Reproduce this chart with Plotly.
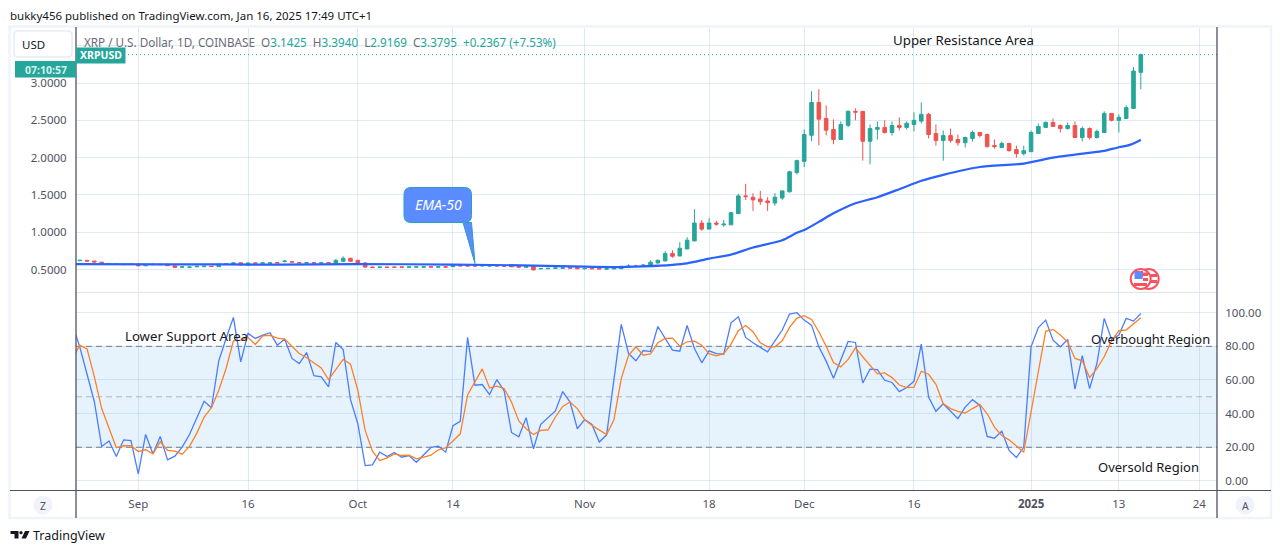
import pandas as pd
import plotly.graph_objects as go

W, H = 1281, 553
FONT = "Noto Sans"
UP, DOWN = "#26a69a", "#ef5350"

opens = [.620,.625,.615,.600,.570,.574,.568,.574,.572,.552,.572,.566,.572,.552,.532,.532,.538,.540,.546,.540,
.572,.577,.592,.560,.590,.585,.586,.594,.610,.606,.594,.588,.594,.588,.594,.585,.612,.652,.625,.590,
.535,.530,.534,.534,.535,.532,.534,.533,.538,.533,.538,.540,.557,.553,.553,.550,.548,.553,.552,.550,
.545,.533,.548,.511,.513,.518,.519,.525,.527,.512,.517,.514,.508,.510,.513,.540,.550,
.552,.554,.59,.616,.716,.683,.777,.885,1.124,1.043,1.124,1.10,1.10,1.25,1.488,1.47,1.447,1.42,1.393,1.46,1.542,1.80,
1.95,2.30,2.74,2.525,2.377,2.243,2.433,2.62,2.62,2.22,2.38,2.405,2.337,2.43,2.405,2.445,2.49,2.58,2.323,2.229,2.296,
2.243,2.20,2.256,2.337,2.31,2.162,2.135,2.19,2.108,2.054,
2.08,2.323,2.405,2.472,2.43,2.39,2.43,2.27,2.39,2.27,2.337,2.593,2.50,2.525,2.66,3.1425]
highs = [.632,.628,.618,.607,.583,.580,.574,.580,.574,.572,.578,.578,.575,.555,.545,.540,.550,.552,.550,.578,
.582,.595,.596,.594,.594,.593,.592,.598,.627,.615,.598,.597,.600,.597,.598,.642,.678,.660,.632,.600,
.542,.538,.538,.538,.541,.540,.540,.545,.542,.538,.542,.570,.563,.560,.562,.558,.556,.558,.566,.558,
.550,.545,.552,.520,.524,.530,.530,.533,.530,.522,.520,.518,.512,.522,.550,.572,.565,
.575,.625,.635,.747,.76,.868,.935,1.31,1.165,1.19,1.155,1.165,1.272,1.515,1.65,1.524,1.555,1.47,1.524,1.555,1.825,1.973,
2.377,2.89,2.916,2.70,2.512,2.485,2.633,2.66,2.62,2.445,2.485,2.50,2.485,2.54,2.485,2.606,2.74,2.60,2.445,2.364,2.39,
2.31,2.283,2.364,2.337,2.323,2.243,2.216,2.20,2.16,2.16,
2.364,2.458,2.485,2.525,2.445,2.472,2.485,2.418,2.405,2.377,2.62,2.593,2.58,2.70,3.213,3.394]
lows = [.618,.610,.598,.565,.567,.565,.565,.566,.549,.550,.562,.558,.552,.525,.530,.528,.535,.538,.540,.538,
.566,.574,.560,.558,.582,.580,.580,.585,.595,.590,.586,.585,.584,.586,.586,.583,.608,.606,.585,.525,
.524,.525,.530,.530,.530,.528,.528,.525,.530,.530,.530,.535,.548,.545,.545,.545,.540,.544,.545,.535,
.525,.525,.490,.508,.507,.511,.514,.519,.510,.505,.510,.508,.498,.505,.510,.535,.540,
.548,.548,.58,.616,.66,.68,.775,.88,1.02,1.043,1.088,1.074,1.098,1.245,1.434,1.286,1.366,1.286,1.357,1.434,1.533,1.775,
1.875,2.22,2.166,2.30,2.18,2.24,2.408,2.50,1.96,1.91,2.243,2.323,2.296,2.364,2.377,2.35,2.458,2.256,2.16,1.96,2.20,
2.16,2.135,2.216,2.27,2.135,2.12,2.135,2.08,2.0,2.027,
2.08,2.32,2.405,2.418,2.337,2.377,2.27,2.216,2.243,2.256,2.337,2.485,2.337,2.525,2.66,2.9169]
closes = [.625,.615,.603,.570,.574,.570,.571,.570,.551,.570,.568,.570,.553,.530,.536,.535,.545,.546,.542,.572,
.577,.590,.563,.590,.585,.590,.590,.590,.614,.602,.590,.592,.590,.592,.590,.625,.652,.612,.590,.535,
.528,.534,.531,.532,.533,.536,.537,.537,.535,.537,.534,.566,.550,.549,.549,.554,.552,.549,.548,.540,
.535,.538,.497,.515,.517,.522,.523,.521,.513,.516,.512,.510,.511,.519,.545,.548,.545,
.560,.600,.625,.716,.68,.787,.895,1.124,1.043,1.124,1.11,1.11,1.263,1.488,1.478,1.434,1.41,1.398,1.47,1.555,1.811,1.96,
2.31,2.74,2.516,2.368,2.243,2.445,2.62,2.61,2.22,2.39,2.405,2.337,2.43,2.405,2.46,2.50,2.58,2.31,2.229,2.296,2.229,
2.20,2.27,2.337,2.296,2.148,2.148,2.19,2.094,2.054,2.094,
2.337,2.418,2.472,2.418,2.39,2.43,2.27,2.39,2.27,2.35,2.593,2.50,2.54,2.67,3.16,3.3795]

ema_dates = ["2024-08-23","2024-09-05","2024-09-20","2024-10-01","2024-10-14","2024-10-25","2024-11-01","2024-11-05",
"2024-11-09","2024-11-13","2024-11-15","2024-11-18","2024-11-21","2024-11-24","2024-11-28","2024-11-30","2024-12-01",
"2024-12-03","2024-12-05","2024-12-08","2024-12-11","2024-12-14","2024-12-17","2024-12-20","2024-12-25","2024-12-31",
"2025-01-04","2025-01-08","2025-01-11","2025-01-13","2025-01-14","2025-01-15","2025-01-16"]
ema_values = [.573,.572,.568,.575,.568,.555,.54,.535,.545,.565,.585,.648,.702,.796,.895,.993,1.03,1.14,1.255,1.39,1.47,
1.578,1.69,1.77,1.875,1.92,2.0,2.053,2.09,2.14,2.157,2.19,2.24]

# RSI values start one day before the first visible candle
rsi = [93.0,79.7,63.4,46.9,20.5,23.7,14.5,24.4,24.0,4.2,27.6,16.1,26.4,12.5,14.7,20.1,27.6,37.6,47.3,43.5,71.4,84.7,97.2,
70.8,87.7,84.7,86.7,88.1,80.7,84.3,72.8,69.8,76.3,62.6,61.8,55.9,82.3,78.1,48.3,34.0,9.1,9.5,17.1,14.5,16.9,14.1,15.1,
11.1,15.5,19.9,20.7,17.1,32.8,35.4,85.3,56.9,57.3,51.3,60.2,53.5,28.8,26.2,37.6,19.1,33.6,37.6,41.6,53.1,46.9,31.0,36.4,
33.6,23.1,27.4,59.8,93.0,75.7,71.4,77.5,76.9,91.8,84.9,77.7,77.1,92.4,78.7,70.2,77.3,75.7,75.3,94.0,97.6,85.3,82.1,79.3,
76.7,83.3,89.7,99.2,100.0,95.6,92.6,79.7,71.2,61.0,72.2,82.9,82.3,58.2,66.4,66.2,59.8,58.5,53.1,55.5,59.2,81.3,49.9,41.4,
45.9,41.4,37.0,43.9,48.3,44.9,26.4,25.4,29.6,18.1,13.9,20.1,79.7,91.2,95.6,83.7,79.7,84.1,54.5,74.4,54.9,69.8,96.6,84.1,
86.7,96.6,95.0,99.6]
rsi_ma = [72.4,80.7,78.5,61.8,43.0,31.0,19.7,20.9,20.9,17.5,18.5,16.1,23.3,18.1,17.7,15.9,20.5,28.4,38.0,43.5,53.9,66.8,83.3,
83.7,85.3,81.1,86.3,86.5,84.9,84.3,79.7,75.7,73.2,70.0,67.2,60.2,66.2,72.2,69.4,53.9,30.0,17.7,12.1,13.7,16.1,15.1,15.3,
13.1,14.1,15.3,18.5,19.7,23.7,28.0,51.1,58.8,66.6,55.2,56.3,54.9,46.9,35.6,31.0,27.6,30.0,30.4,38.0,44.3,46.9,43.0,36.4,
33.0,30.4,27.6,36.4,60.8,74.7,79.7,74.7,75.5,82.1,84.7,84.9,80.1,82.7,83.1,80.7,75.7,74.4,75.7,81.3,89.3,92.4,88.7,82.1,
79.7,79.7,83.3,91.3,96.8,98.2,96.0,88.7,80.1,70.4,67.8,72.2,79.1,73.8,68.4,63.6,64.2,61.4,57.0,55.5,55.7,65.2,63.4,57.4,
45.9,43.0,41.4,40.3,43.0,45.5,39.9,32.0,27.0,24.4,20.7,17.1,41.0,64.8,88.9,90.1,86.7,82.7,72.8,71.4,61.4,66.8,73.8,83.3,
89.3,89.7,93.2,97.0]

time_ticks = ["2024-09-01","2024-09-16","2024-10-01","2024-10-14","2024-11-01","2024-11-18","2024-12-01","2024-12-16",
"2025-01-01","2025-01-13","2025-01-24"]
time_labels = ["Sep","16","Oct","14","Nov","18","Dec","16","<b>2025</b>","13","24"]
price_ticks = [0.5,1.0,1.5,2.0,2.5,3.0,3.5]
price_labels = ["0.5000","1.0000","1.5000","2.0000","2.5000","3.0000",""]
rsi_ticks = [0,20,40,60,80,100]
rsi_labels = ["0.00","20.00","40.00","60.00","80.00","100.00"]

candle_dates = pd.date_range("2024-08-24", periods=len(closes))
rsi_dates = pd.date_range("2024-08-23", periods=len(rsi))
x_range = ["2024-08-23 11:44", "2025-01-26 09:50"]

px = lambda x: x / W
py = lambda y: 1 - y / H
GRID = "rgba(120,170,200,0.24)"
TXT = "#131722"
AX = "#50535e"

fig = go.Figure()
fig.add_trace(go.Candlestick(x=candle_dates, open=opens, high=highs, low=lows, close=closes, whiskerwidth=0,
    increasing=dict(line=dict(color=UP, width=1), fillcolor=UP),
    decreasing=dict(line=dict(color=DOWN, width=1), fillcolor=DOWN), xaxis="x", yaxis="y", hoverinfo="skip"))
fig.add_trace(go.Scatter(x=ema_dates, y=ema_values, mode="lines", line=dict(color="#2962ff", width=2.2, shape="spline", smoothing=0.6),
    xaxis="x", yaxis="y", hoverinfo="skip"))
fig.add_trace(go.Scatter(x=rsi_dates, y=rsi, mode="lines", line=dict(color="#4a7dff", width=1.3),
    xaxis="x2", yaxis="y2", hoverinfo="skip"))
fig.add_trace(go.Scatter(x=rsi_dates, y=rsi_ma, mode="lines", line=dict(color="#ff7f27", width=1.3),
    xaxis="x2", yaxis="y2", hoverinfo="skip"))

shapes = []
def pix_line(x0, y0, x1, y1, color, width=1, layer="above", dash="solid"):
    shapes.append(dict(type="line", xref="paper", yref="paper", x0=px(x0), x1=px(x1), y0=py(y0), y1=py(y1),
                       line=dict(color=color, width=width, dash=dash), layer=layer))
def pix_path(points, fill, line="rgba(0,0,0,0)", width=0):
    d = " ".join(("M" if i == 0 else "L") + f"{px(a):.5f},{py(b):.5f}" for i, (a, b) in enumerate(points)) + " Z"
    shapes.append(dict(type="path", xref="paper", yref="paper", path=d, fillcolor=fill,
                       line=dict(color=line, width=width), layer="above"))
def pix_circle(cx, cy, r, fill, line="rgba(0,0,0,0)", width=0):
    shapes.append(dict(type="circle", xref="paper", yref="paper", x0=px(cx-r), x1=px(cx+r), y0=py(cy+r), y1=py(cy-r),
                       fillcolor=fill, line=dict(color=line, width=width), layer="above"))
def pix_rect(x0, y0, x1, y1, fill, line="rgba(0,0,0,0)", width=0):
    shapes.append(dict(type="rect", xref="paper", yref="paper", x0=px(x0), x1=px(x1), y0=py(y1), y1=py(y0),
                       fillcolor=fill, line=dict(color=line, width=width), layer="above"))
def pix_round(x0, y0, x1, y1, r, fill, line, width=1, extra=None):
    X0, X1, Y0, Y1 = px(x0), px(x1), py(y0), py(y1)
    rx, ry = r / W, r / H
    mid = ""
    if extra:
        mid = " ".join(f"L{px(a):.5f},{py(b):.5f}" for a, b in extra)
    d = (f"M{X0+rx},{Y0} L{X1-rx},{Y0} Q{X1},{Y0} {X1},{Y0-ry} L{X1},{Y1+ry} Q{X1},{Y1} {X1-rx},{Y1} {mid} "
         f"L{X0+rx},{Y1} Q{X0},{Y1} {X0},{Y1+ry} L{X0},{Y0-ry} Q{X0},{Y0} {X0+rx},{Y0} Z")
    shapes.append(dict(type="path", xref="paper", yref="paper", path=d, fillcolor=fill,
                       line=dict(color=line, width=width), layer="above"))

# RSI band and levels (axis coordinates)
shapes.append(dict(type="rect", xref="x2", yref="y2", x0=x_range[0], x1=x_range[1], y0=20, y1=80,
                   fillcolor="#e6f3fd", line=dict(width=0), layer="below"))
for lvl, col in ((80, "#6f727d"), (50, "#b2b5be"), (20, "#6f727d")):
    shapes.append(dict(type="line", xref="x2", yref="y2", x0=x_range[0], x1=x_range[1], y0=lvl, y1=lvl,
                       line=dict(color=col, width=1, dash="6px,4px"), layer="below"))
# last price line
shapes.append(dict(type="line", xref="x", yref="y", x0=x_range[0], x1=x_range[1], y0=closes[-1], y1=closes[-1],
                   line=dict(color=UP, width=1, dash="1px,3px"), layer="below"))

# chrome
pix_rect(9.5, 26.5, 1271, 518, "rgba(0,0,0,0)", "#f0f3fa", 2.5)
pix_line(76, 292.5, 1217, 292.5, "#e0e3eb")
pix_line(10, 490.5, 1271, 490.5, AX)
pix_line(76, 27, 76, 518, AX, 1.3)
pix_line(1217, 27, 1217, 518, AX, 1.3)
pix_round(14, 31, 72, 57, 4, "#ffffff", "#e8ebf2", 1.5)
pix_rect(76, 47.5, 125.5, 63.5, UP)
pix_rect(15, 61, 76, 77.5, UP)
# EMA callout
pix_round(404, 187.5, 471.5, 222.5, 7, "#5b8cff", "#2a9dc4", 1,
          extra=[(471.5, 222.5), (475, 263.5), (463, 222.5)])
# round buttons
pix_circle(43, 505, 9.5, "#f0f3fa")
pix_circle(1245, 505, 9.5, "#f0f3fa")
# flag icon
pix_circle(1148.7, 279, 10, "#ffffff", "#f7525f", 2)
pix_rect(1151, 274, 1157, 277, "#f7525f")
pix_rect(1151, 280, 1157, 283, "#f7525f")
pix_circle(1140.7, 279, 10, "#ffffff", "#f7525f", 2)
pix_rect(1136, 271, 1143, 277.5, "#f7525f")
pix_rect(1143, 272.5, 1148, 276, "#f7525f")
pix_rect(1143, 278, 1148, 281, "#f7525f")
pix_rect(1134, 283, 1147, 286, "#f7525f")
pix_rect(1134.5, 271.5, 1142.5, 279, "#5b8cff")
# TradingView logo
pix_path([(10.5, 531), (18.5, 531), (18.5, 538.5), (14.5, 538.5), (14.5, 534), (10.5, 534)], TXT)
pix_circle(21, 532.7, 1.6, TXT)
pix_path([(25, 531), (29.5, 531), (26, 538.5), (21.5, 538.5)], TXT)

def txt(x, y, s, size=12, color=TXT, anchor="left", **kw):
    return dict(xref="paper", yref="paper", x=px(x - (2 if anchor == "left" else 0)), y=py(y), text=s, showarrow=False,
                xanchor=anchor, yanchor="middle", font=dict(family=FONT, size=size, color=color), **kw)
teal = lambda s: f'<span style="color:{UP}">{s}</span>'
gap = "&nbsp;&nbsp;"
legend = ("XRP / U.S. Dollar, 1D, COINBASE" + gap + "O" + teal("3.1425") + gap + "H" + teal("3.3940") + gap + "L" + teal("2.9169")
          + gap + "C" + teal("3.3795") + gap + teal("+0.2367 (+7.53%)"))
annotations = [
    txt(10, 15.5, "bukky456 published on TradingView.com, Jan 16, 2025 17:49 UTC+1", 11.5),
    txt(84, 41.5, legend, 11.7, "#6a6d78"),
    txt(893, 40, "Upper Resistance Area", 13.3),
    txt(125, 336, "Lower Support Area", 13.2),
    txt(1091, 339, "Overbought Region", 12.9),
    txt(1098, 467, "Oversold Region", 13),
    txt(438, 204, "<i>EMA-50</i>", 14, "#ffffff", "center"),
    txt(33.5, 44.5, "USD", 11.5, TXT, "center"),
    txt(100.7, 55.5, "<b>XRPUSD</b>", 10.5, "#ffffff", "center"),
    txt(45.5, 69.5, "<b>07:10:57</b>", 10.5, "#d4f1ee", "center"),
    txt(43, 505.5, "Z", 10.5, AX, "center"),
    txt(1245, 505.5, "A", 10.5, AX, "center"),
    txt(33, 535, "TradingView", 12.5, TXT),
]

common_x = dict(type="date", range=x_range, tickmode="array", tickvals=time_ticks, gridcolor=GRID, gridwidth=1,
                showline=False, zeroline=False, rangeslider=dict(visible=False))
fig.update_layout(
    width=W, height=H, autosize=False, margin=dict(l=0, r=0, t=0, b=0), showlegend=False,
    paper_bgcolor="#ffffff", plot_bgcolor="#ffffff", hovermode=False, shapes=shapes, annotations=annotations,
    font=dict(family=FONT, size=12, color=AX),
    xaxis=dict(common_x, domain=[px(76), px(1217)], anchor="y", showticklabels=False, ticks=""),
    xaxis2=dict(common_x, domain=[px(76), px(1217)], anchor="y2", ticktext=time_labels, ticks="outside",
                ticklen=3, tickcolor="rgba(0,0,0,0)", tickfont=dict(family=FONT, size=11.5, color=AX)),
    yaxis=dict(domain=[py(292.5), py(27)], range=[0.194, 3.75], anchor="x", side="left", tickmode="array",
               tickvals=price_ticks, ticktext=price_labels, gridcolor=GRID, zeroline=False, ticks="outside",
               ticklen=6, tickcolor="rgba(0,0,0,0)", tickfont=dict(family=FONT, size=11.5, color=AX)),
    yaxis2=dict(domain=[py(490.5), py(292.5)], range=[-5.7, 112], anchor="x2", side="right", tickmode="array",
                tickvals=rsi_ticks, ticktext=rsi_labels, gridcolor=GRID, zeroline=False, ticks="outside",
                ticklen=5, tickcolor="rgba(0,0,0,0)", tickfont=dict(family=FONT, size=11.5, color=AX)),
)
fig.write_html("out.html", config=dict(displayModeBar=False),
               post_script="document.body.style.margin='0';document.body.style.overflow='hidden';")
